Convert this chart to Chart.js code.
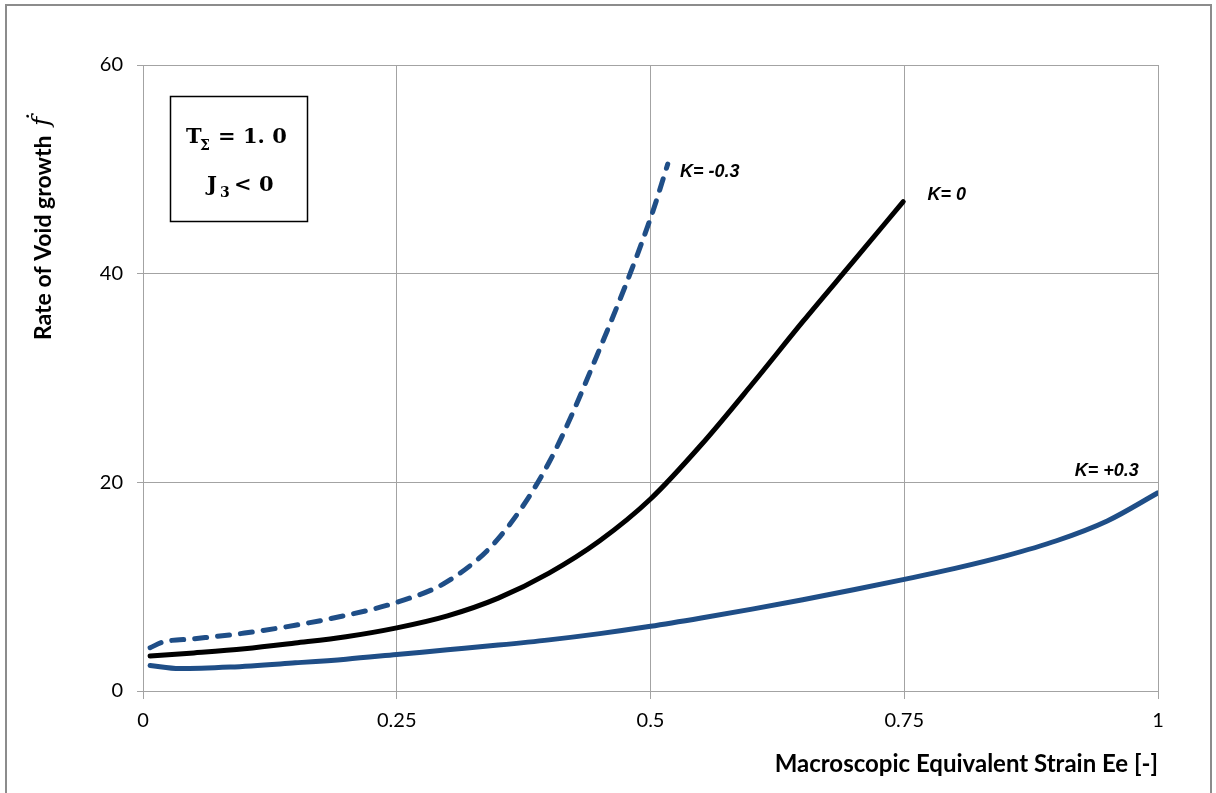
<!DOCTYPE html>
<html>
<head>
<meta charset="utf-8">
<script src="https://cdn.jsdelivr.net/npm/chart.js@4"></script>
<style>
  html, body { margin: 0; padding: 0; background: #fff; }
  #wrap { position: relative; width: 1216px; height: 793px; }
</style>
</head>
<body>
<div id="wrap"><canvas id="canvas" width="1216" height="793"></canvas></div>
<script>
// strain values (Ee) and void growth rate for each K
const kNegX = [0.007, 0.02, 0.05, 0.1, 0.15, 0.2, 0.25, 0.3, 0.35, 0.4, 0.45, 0.5, 0.517];
const kNegY = [4.15, 4.7, 5.0, 5.55, 6.3, 7.25, 8.5, 10.5, 14.6, 21.9, 32.8, 45.3, 50.5];

const kZeroX = [0.007, 0.05, 0.1, 0.15, 0.2, 0.25, 0.3, 0.35, 0.4, 0.45, 0.5, 0.55, 0.6, 0.65, 0.7, 0.749];
const kZeroY = [3.35, 3.65, 4.05, 4.6, 5.2, 6.05, 7.2, 8.9, 11.3, 14.4, 18.4, 23.6, 29.4, 35.4, 41.2, 46.9];

const kPosX = [0.007, 0.036, 0.086, 0.15, 0.2, 0.25, 0.3, 0.35, 0.4, 0.45, 0.5, 0.55, 0.6, 0.65, 0.7, 0.75, 0.8, 0.85, 0.9, 0.95, 1.0];
const kPosY = [2.45, 2.15, 2.3, 2.7, 3.05, 3.5, 3.95, 4.4, 4.9, 5.5, 6.2, 7.0, 7.85, 8.75, 9.7, 10.7, 11.75, 12.95, 14.4, 16.3, 19.0];

const xTicks = [0, 0.25, 0.5, 0.75, 1];
const yTicks = [0, 20, 40, 60];

const seriesNames = ['K= -0.3', 'K= 0', 'K= +0.3'];
// where each curve's name sits, in data units
const nameX = [0.529, 0.773, 0.918];
const nameY = [49.7, 47.5, 21.1];

const blue = '#1f4e87';

function toPoints(xs, ys) {
  return xs.map((x, i) => ({ x: x, y: ys[i] }));
}

const gridGray = '#a3a3a3';
const tickFont = { family: 'Lato, "Open Sans", sans-serif', size: 20 };
const titleFont = 'Lato, "Open Sans", sans-serif';

// frame, y title, info box and curve names
const decorations = {
  id: 'decorations',
  beforeDraw(chart) {
    const c = chart.ctx;
    c.save();
    c.fillStyle = '#fff';
    c.fillRect(0, 0, chart.width, chart.height);
    c.strokeStyle = '#8c8c8c';
    c.lineWidth = 2;
    c.strokeRect(6, 5, 1205, 800);
    c.restore();
  },
  afterDraw(chart) {
    const c = chart.ctx;
    const xs = chart.scales.x, ys = chart.scales.y;
    c.save();

    // y axis title, rotated
    c.translate(44, 340);
    c.rotate(-Math.PI / 2);
    c.fillStyle = '#000';
    c.textBaseline = 'middle';
    c.textAlign = 'left';
    c.font = 'bold 23px ' + titleFont;
    const t = 'Rate of Void growth ';
    c.fillText(t, 0, 0);
    const w = c.measureText(t).width;
    c.font = 'italic 25px "DejaVu Serif", "Liberation Serif", serif';
    c.fillText('\u1E1F', w + 4, -2);
    c.setTransform(1, 0, 0, 1, 0, 0);

    // info box
    c.strokeStyle = '#000';
    c.lineWidth = 1.5;
    c.strokeRect(170.5, 96.5, 137, 125);
    c.fillStyle = '#000';
    c.textBaseline = 'alphabetic';
    const big = 'bold 21px "DejaVu Serif", "Liberation Serif", serif';
    const sub = 'bold 14px "DejaVu Serif", "Liberation Serif", serif';
    c.font = big;
    c.fillText('T', 186, 143);
    c.font = sub;
    c.fillText('\u03A3', 200, 150);
    c.font = big;
    c.fillText('= 1. 0', 218, 143);
    c.fillText('J', 207, 191);
    c.font = sub;
    c.fillText('3', 220, 197);
    c.font = big;
    c.fillText('< 0', 234, 191);

    // curve names
    c.font = 'italic bold 18px "Liberation Sans", Arial, sans-serif';
    c.textBaseline = 'middle';
    seriesNames.forEach((n, i) => {
      c.fillText(n, xs.getPixelForValue(nameX[i]), ys.getPixelForValue(nameY[i]));
    });
    c.restore();
  }
};

new Chart(document.getElementById('canvas'), {
  type: 'scatter',
  data: {
    datasets: [
      {
        label: seriesNames[0],
        data: toPoints(kNegX, kNegY),
        showLine: true,
        borderColor: blue,
        borderWidth: 5,
        borderDash: [12, 11],
        borderCapStyle: 'round',
        pointRadius: 0,
        cubicInterpolationMode: 'monotone'
      },
      {
        label: seriesNames[1],
        data: toPoints(kZeroX, kZeroY),
        showLine: true,
        borderColor: '#000',
        borderWidth: 5,
        borderCapStyle: 'round',
        pointRadius: 0,
        cubicInterpolationMode: 'monotone'
      },
      {
        label: seriesNames[2],
        data: toPoints(kPosX, kPosY),
        showLine: true,
        borderColor: blue,
        borderWidth: 5,
        borderCapStyle: 'round',
        pointRadius: 0,
        cubicInterpolationMode: 'monotone'
      }
    ]
  },
  options: {
    responsive: false,
    animation: false,
    layout: { padding: { top: 65, right: 58, left: 0, bottom: 0 } },
    plugins: {
      legend: { display: false },
      tooltip: { enabled: false }
    },
    scales: {
      x: {
        type: 'linear',
        min: 0,
        max: 1,
        afterBuildTicks(scale) { scale.ticks = xTicks.map(v => ({ value: v })); },
        afterFit(scale) { scale.height = 102; },
        ticks: {
          color: '#000',
          font: tickFont,
          padding: 10,
          maxRotation: 0,
          callback: (v) => String(v)
        },
        grid: { color: gridGray, tickLength: 8, lineWidth: 1 },
        border: { color: gridGray },
        title: {
          display: true,
          text: 'Macroscopic Equivalent Strain Ee [-]',
          align: 'end',
          color: '#000',
          font: { family: titleFont, size: 24, weight: 'bold' },
          padding: { top: 0, bottom: 14 }
        }
      },
      y: {
        type: 'linear',
        min: 0,
        max: 60,
        afterBuildTicks(scale) { scale.ticks = yTicks.map(v => ({ value: v })); },
        afterFit(scale) { scale.width = 143; },
        ticks: { color: '#000', font: tickFont, padding: 14 },
        grid: { color: gridGray, tickLength: 6, lineWidth: 1 },
        border: { color: gridGray }
      }
    }
  },
  plugins: [decorations]
});
</script>
</body>
</html>
